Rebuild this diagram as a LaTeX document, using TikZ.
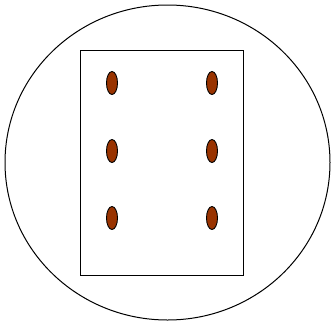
\documentclass[tikz,border=0pt]{standalone}
\usepackage{tikz}
\definecolor{peg}{HTML}{993300}
\tikzset{
    hole/.style={draw=black, fill=peg, line width=0.9pt}
}

\begin{document}
\begin{tikzpicture}[x=1pt, y=-1pt]

\useasboundingbox (0,0) rectangle (332,322);

% Outer circle
\draw[line width=1pt] (167.5,162.5) ellipse (162.5 and 157.5);

% Board
\draw[line width=1pt] (80.5,50) rectangle (243.5,275);

% Holes
\foreach \y in {83,151,218} {
    \draw[hole] (112,\y) ellipse (5.5 and 11.5);
    \draw[hole] (212,\y) ellipse (5.5 and 11.5);
}

\end{tikzpicture}
\end{document}
